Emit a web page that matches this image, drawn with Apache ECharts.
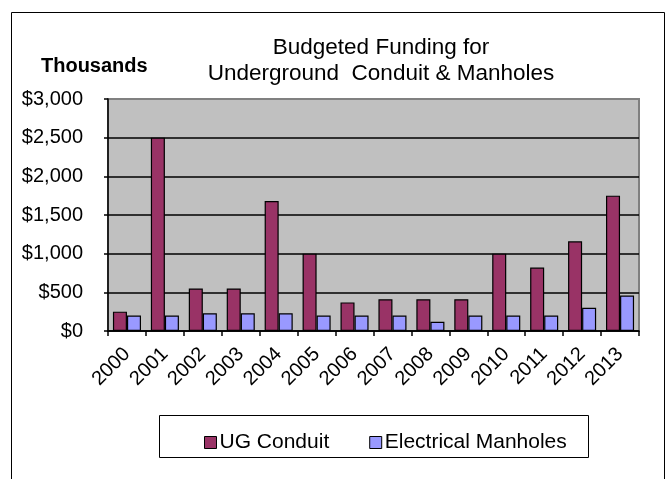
<!DOCTYPE html>
<html>
<head>
<meta charset="utf-8">
<script src="https://cdn.jsdelivr.net/npm/echarts@6/dist/echarts.min.js"></script>
<style>
  html, body { margin: 0; padding: 0; background: #fff; }
  #chart { width: 668px; height: 479px; }
</style>
</head>
<body>
<div id="chart"></div>
<script>
// Budgeted funding, in thousands of dollars
const years = ['2000','2001','2002','2003','2004','2005','2006','2007','2008','2009','2010','2011','2012','2013'];
const ugConduit = [250, 2500, 550, 550, 1680, 1000, 370, 410, 410, 410, 1000, 820, 1160, 1750];
const electricalManholes = [200, 200, 230, 230, 230, 200, 200, 200, 120, 200, 200, 200, 300, 460];
const seriesNames = ['UG Conduit', 'Electrical Manholes'];
const titleLines = ['Budgeted Funding for', 'Underground  Conduit & Manholes'];
const unitLabel = 'Thousands';

const FONT = '"Liberation Sans", Arial, sans-serif';
const chart = echarts.init(document.getElementById('chart'), null, { renderer: 'canvas' });

chart.setOption({
  backgroundColor: '#ffffff',
  animation: false,
  textStyle: { fontFamily: FONT, color: '#000' },
  graphic: [
    // outer frame
    { type: 'rect', shape: { x: 11.5, y: 12.5, width: 653, height: 500 },
      style: { fill: null, stroke: '#000', lineWidth: 1 }, z: 0 },
    // legend frame
    { type: 'rect', shape: { x: 159.5, y: 415.5, width: 429, height: 42 },
      style: { fill: '#fff', stroke: '#000', lineWidth: 1 }, z: 0 },
    // unit caption above the value axis
    { type: 'text', x: 41, y: 66,
      style: { text: unitLabel, font: 'bold 20px ' + FONT, fill: '#000', verticalAlign: 'middle' } }
  ],
  title: {
    text: titleLines.join('\n'),
    left: 376, top: 30, textAlign: 'center',
    textStyle: { fontFamily: FONT, fontWeight: 'normal', fontSize: 22.5, lineHeight: 26, color: '#000' }
  },
  legend: {
    data: seriesNames,
    left: 199, top: 427,
    itemWidth: 12, itemHeight: 12, itemGap: 40,
    icon: 'rect',
    itemStyle: { borderColor: '#000', borderWidth: 1 },
    textStyle: { fontFamily: FONT, fontSize: 21, color: '#000', padding: [0, 0, 0, -2] }
  },
  grid: {
    left: 108, right: 29, top: 99, bottom: 148,
    show: true, backgroundColor: '#C0C0C0', borderColor: '#808080', borderWidth: 2
  },
  xAxis: {
    type: 'category',
    data: years,
    boundaryGap: true,
    axisLine: { lineStyle: { color: '#000', width: 1.5 } },
    axisTick: { show: true, length: 5, inside: false, lineStyle: { color: '#000', width: 1.5 } },
    axisLabel: { rotate: 45, margin: 20, fontFamily: FONT, fontSize: 20, color: '#000', interval: 0 }
  },
  yAxis: {
    type: 'value',
    min: 0, max: 3000, interval: 500,
    axisLine: { show: true, lineStyle: { color: '#000', width: 1.5 } },
    axisTick: { show: true, length: 4, lineStyle: { color: '#000', width: 1.5 } },
    axisLabel: {
      margin: 25, fontFamily: FONT, fontSize: 20, color: '#000',
      formatter: v => '$' + v.toLocaleString('en-US')
    },
    splitLine: { show: true, lineStyle: { color: ['#000','#000','#000','#000','#000','#000','#808080'], width: 1.5 } }
  },
  series: [
    {
      name: seriesNames[0], type: 'bar', data: ugConduit,
      barGap: '0%', barCategoryGap: '26%',
      itemStyle: { color: '#993366', borderColor: '#000', borderWidth: 1.2 }
    },
    {
      name: seriesNames[1], type: 'bar', data: electricalManholes,
      barGap: '0%', barCategoryGap: '26%',
      itemStyle: { color: '#9999FF', borderColor: '#000', borderWidth: 1.2 }
    }
  ]
});
</script>
</body>
</html>
